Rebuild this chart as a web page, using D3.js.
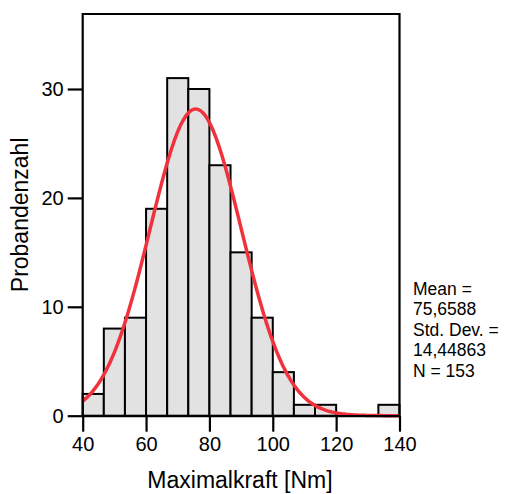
<!DOCTYPE html>
<html>
<head>
<meta charset="utf-8">
<script src="https://cdn.jsdelivr.net/npm/d3@7"></script>
<style>
  body { margin: 0; background: #fff; }
  text { font-family: "Liberation Sans", Arial, sans-serif; fill: #000; }
</style>
</head>
<body>
<div id="view"></div>
<script>
// ---------- Data ----------
const binEdges = [40, 46.667, 53.333, 60, 66.667, 73.333, 80, 86.667, 93.333, 100, 106.667, 113.333, 120, 126.667, 133.333, 140];
const counts   = [2, 8, 9, 19, 31, 30, 23, 15, 9, 4, 1, 1, 0, 0, 1];
const xTicks   = [40, 60, 80, 100, 120, 140];
const yTicks   = [0, 10, 20, 30];
const statsLines = ["Mean =", "75,6588", "Std. Dev. =", "14,44863", "N = 153"];
const MEAN = 75.6588, SD = 14.44863, N = 153;

const bins = counts.map((c, i) => ({ x0: binEdges[i], x1: binEdges[i + 1], n: c }));

// ---------- Layout ----------
const W = 506, H = 494;
const L = 82.7, R = 399.5, T = 14, B = 415.7;
const FONT = "Liberation Sans, Arial, sans-serif";

const svg = d3.select("#view").append("svg")
  .attr("width", W).attr("height", H);

const x = d3.scaleLinear().domain([40, 140]).range([L, R]);
const y = d3.scaleLinear().domain([0, 10]).range([B, B - 108.9]);

// Bars
svg.append("g").selectAll("rect")
  .data(bins.filter(d => d.n > 0))
  .join("rect")
  .attr("x", d => x(d.x0))
  .attr("y", d => y(d.n))
  .attr("width", d => x(d.x1) - x(d.x0))
  .attr("height", d => y(0) - y(d.n))
  .attr("fill", "#e2e2e2")
  .attr("stroke", "#000")
  .attr("stroke-width", 2);

// Normal curve from reported mean / sd
const bw = binEdges[1] - binEdges[0];
const curve = d3.range(40, 140.01, 0.5).map(v => [
  v,
  N * bw * Math.exp(-0.5 * ((v - MEAN) / SD) ** 2) / (SD * Math.sqrt(2 * Math.PI))
]);
svg.append("path")
  .datum(curve)
  .attr("fill", "none")
  .attr("stroke", "#f0323c")
  .attr("stroke-width", 3.5)
  .attr("d", d3.line().x(d => x(d[0])).y(d => y(d[1])).curve(d3.curveBasis));

// Frame
svg.append("path")
  .attr("d", `M${L},${B}V${T}H${R}V${B}`)
  .attr("fill", "none").attr("stroke", "#000").attr("stroke-width", 2.2);

// X axis
const xAxis = svg.append("g")
  .attr("transform", `translate(0,${B})`)
  .call(d3.axisBottom(x).tickValues(xTicks).tickSize(16).tickPadding(5).tickSizeOuter(0));
xAxis.select(".domain").attr("stroke-width", 2.2);
xAxis.selectAll(".tick line").attr("stroke-width", 2.2);
xAxis.selectAll("text").attr("font-size", 20).attr("font-family", FONT);

// Y axis
const yAxis = svg.append("g")
  .attr("transform", `translate(${L},0)`)
  .call(d3.axisLeft(y).tickValues(yTicks).tickSize(15).tickPadding(4));
yAxis.select(".domain").remove();
yAxis.selectAll(".tick line").attr("stroke-width", 2.2);
yAxis.selectAll("text").attr("font-size", 20).attr("font-family", FONT);

// Axis titles
svg.append("text")
  .attr("x", 240).attr("y", 488)
  .attr("text-anchor", "middle").attr("font-size", 23)
  .text("Maximalkraft [Nm]");

svg.append("text")
  .attr("transform", `translate(28,${(T + B) / 2}) rotate(-90)`)
  .attr("text-anchor", "middle").attr("font-size", 23)
  .text("Probandenzahl");

// Stats box
svg.append("g").selectAll("text")
  .data(statsLines)
  .join("text")
  .attr("x", 413)
  .attr("y", (d, i) => 294.5 + i * 20.5)
  .attr("font-size", 17.5)
  .text(d => d);
</script>
</body>
</html>
